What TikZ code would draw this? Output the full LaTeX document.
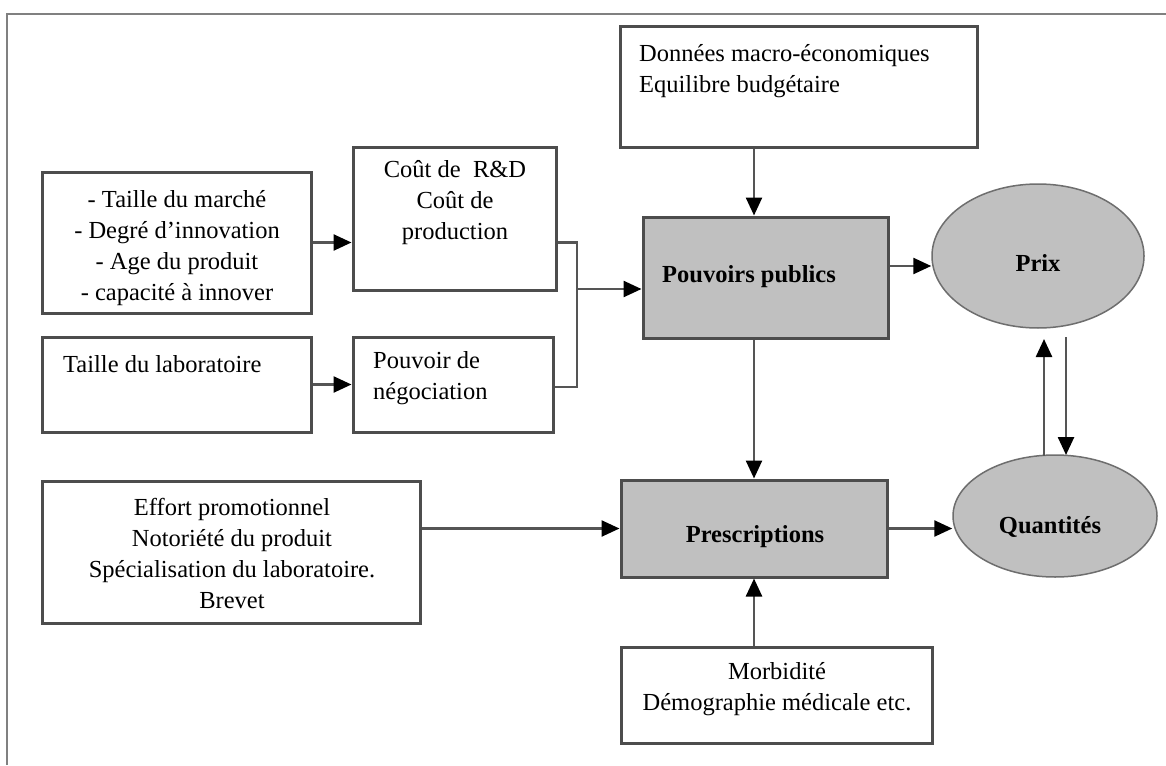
\documentclass[tikz,border=0pt]{standalone}
\usepackage{fontspec}
\setmainfont{Liberation Serif}
\usetikzlibrary{arrows.meta,shapes.geometric}
\definecolor{boxline}{HTML}{4D4D4D}
\definecolor{conncol}{HTML}{555555}
\definecolor{fillg}{HTML}{C0C0C0}
\definecolor{framecol}{HTML}{808080}
\definecolor{ellline}{HTML}{6E6E6E}
\begin{document}
\begin{tikzpicture}[x=1pt,y=-1pt,
  box/.style={rectangle,draw=boxline,line width=3pt,inner sep=0pt,fill=white},
  gbox/.style={box,fill=fillg},
  ell/.style={ellipse,draw=ellline,line width=1.5pt,fill=fillg,inner sep=0pt},
  txt/.style={inner sep=0pt,font=\fontsize{24.5}{31}\selectfont},
  btxt/.style={inner sep=0pt,font=\fontsize{24.5}{31}\selectfont\bfseries},
  conn/.style={draw=conncol,line width=2.5pt},
  arr/.style={conn,-{Triangle[length=18pt,width=16pt,color=black]}}]
\useasboundingbox (0,0) rectangle (1166,765);
\fill[white] (0,0) rectangle (1166,765);
\draw[framecol,line width=2pt] (7,765) -- (7,14) -- (1166,14);

% boxes
\node[box,minimum width=269pt,minimum height=141pt] (A) at (176.5,242.5) {};
\node[box,minimum width=203pt,minimum height=143pt] (B) at (454.5,218.5) {};
\node[box,minimum width=269pt,minimum height=95pt] (C) at (176.5,384.5) {};
\node[box,minimum width=200pt,minimum height=95pt] (D) at (453,384.5) {};
\node[box,minimum width=357pt,minimum height=120pt] (E) at (798.5,87) {};
\node[gbox,minimum width=245pt,minimum height=121pt] (P) at (765.5,277.5) {};
\node[gbox,minimum width=266pt,minimum height=97pt] (R) at (754,528.5) {};
\node[box,minimum width=378pt,minimum height=142pt] (F) at (231,552) {};
\node[box,minimum width=311pt,minimum height=96pt] (M) at (776.5,695) {};
\node[ell,minimum width=212pt,minimum height=144pt] (Prix) at (1038,256) {};
\node[ell,minimum width=204pt,minimum height=122pt] (Q) at (1055,516) {};

% texts
\node[txt,align=center] (tA) at (177,248) {- Taille du marché\\- Degré d'innovation\\- Age du produit\\- capacité à innover};
\node[txt,align=center] (tB) at (455,203) {Coût de~ R\&D\\Coût de\\production};
\node[txt,anchor=west] (tC) at (63,364) {Taille du laboratoire};
\node[txt,align=left,anchor=west] (tD) at (373,378.5) {Pouvoir de\\négociation};
\node[txt,align=left,anchor=west] (tE) at (639,71) {Données macro-économiques\\Equilibre budgétaire};
\node[btxt] (tP) at (749,277) {Pouvoirs publics};
\node[btxt] (tR) at (755,537) {Prescriptions};
\node[btxt] (tPrix) at (1038,263) {Prix};
\node[btxt] (tQ) at (1050,527) {Quantités};
\node[txt,align=center] (tF) at (232,553) {Effort promotionnel\\Notoriété du produit\\Spécialisation du laboratoire.\\Brevet};
\node[txt,align=center] (tM) at (777,689) {Morbidité\\Démographie médicale etc.};

% coordinates
\coordinate (j1) at (577,242.5);
\coordinate (j2) at (577,387);
\coordinate (j3) at (577,289);
\coordinate (h1) at (0,266);
\coordinate (u1) at (1044,456);
\coordinate (u2) at (1044,339);
\coordinate (d1) at (1066,337);
\coordinate (d2) at (1066,455);

% connectors
\draw[arr] (A.east) -- (B.west |- A.east);
\draw[arr] (C.east) -- (D.west);
\draw[conn] (B.east |- j1) -- (j1) -- (j2) -- (D.east |- j2);
\draw[arr] (j3) -- (P.west |- j3);
\draw[arr] (E.south -| R.north) -- (P.north -| R.north);
\draw[arr] (P.east |- h1) -- (Prix.west |- h1);
\draw[arr] (P.south -| R.north) -- (R.north);
\draw[arr] (F.east |- R.west) -- (R.west);
\draw[arr] (M.north -| R.south) -- (R.south);
\draw[arr] (R.east) -- (Q.west |- R.east);
\draw[arr] (u1) -- (u2);
\draw[arr] (d1) -- (d2);
\end{tikzpicture}
\end{document}
